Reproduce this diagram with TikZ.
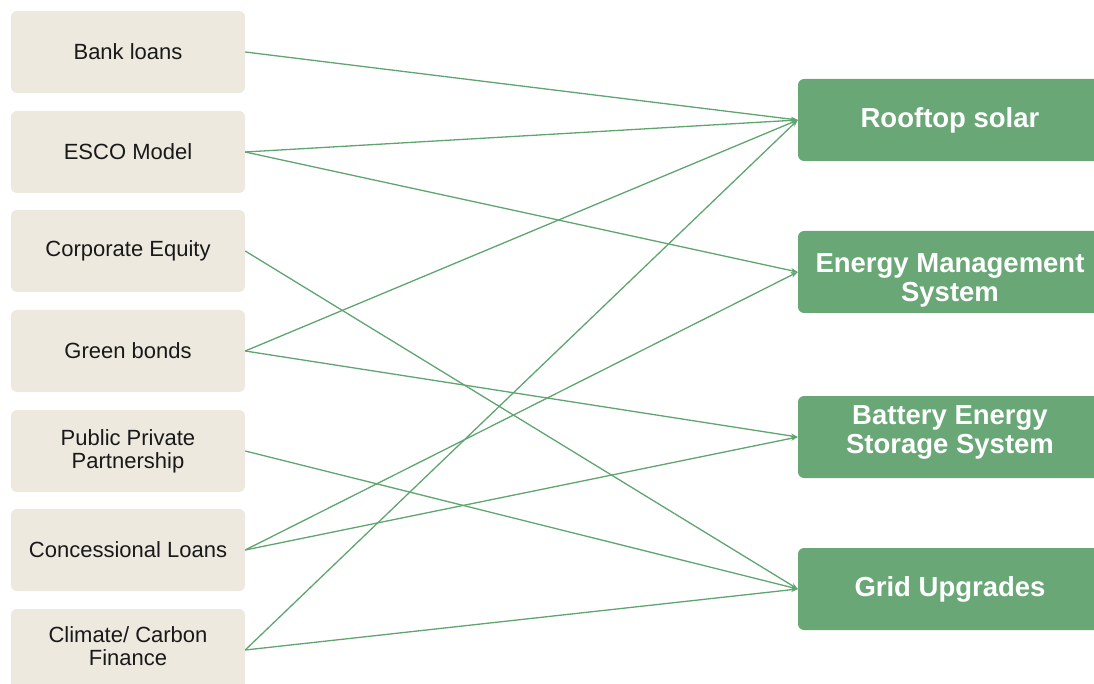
\documentclass[tikz,border=0pt]{standalone}
\usepackage{fontspec}
\setmainfont{Liberation Sans}
\usetikzlibrary{arrows.meta}
\definecolor{srcfill}{HTML}{EEE9DF}
\definecolor{dstfill}{HTML}{6AA777}
\definecolor{linkcol}{HTML}{5FA56F}
\begin{document}
\begin{tikzpicture}[x=1pt,y=-1pt,
  srcbox/.style={fill=srcfill,draw=none,rounded corners=6pt,minimum width=234pt,minimum height=82pt,inner sep=0pt,align=center,font=\fontsize{22}{23}\selectfont,text=black!90},
  srctext/.style={align=center,font=\fontsize{22}{23}\selectfont,text=black!90,inner sep=0pt},
  dstbox/.style={fill=dstfill,draw=none,rounded corners=6pt,minimum width=304pt,minimum height=82pt,inner sep=0pt,align=center,font=\fontsize{27.5}{29}\selectfont\bfseries,text=white},
  dsttext/.style={align=center,font=\fontsize{27.5}{29}\selectfont\bfseries,text=white,inner sep=0pt},
  link/.style={draw=linkcol,line width=1.3pt,-{Stealth[length=7pt,width=5pt]}}]
\useasboundingbox (0,0) rectangle (1094,684);
\clip (0,0) rectangle (1094,684);
\node[srcbox] (bank) at (128,52) {Bank loans};
\node[srcbox] (esco) at (128,152) {ESCO Model};
\node[srcbox] (corp) at (128,251) {Corporate Equity};
\node[srcbox] (green) at (128,351) {Green bonds};
\node[srcbox] (ppp) at (128,451) {Public Private\\Partnership};
\node[srcbox] (conc) at (128,550) {Concessional Loans};
\node[srcbox,label={[srctext,yshift=4pt]center:{Climate/ Carbon\\Finance}}] (clim) at (128,650) {};
\node[dstbox] (roof) at (950,120) {Rooftop solar};
\node[dstbox,label={[dsttext,yshift=-8pt]center:{Energy Management\\System}}] (ems) at (950,272) {};
\node[dstbox,label={[dsttext,yshift=5pt]center:{Battery Energy\\Storage System}}] (bess) at (950,437) {};
\node[dstbox] (grid) at (950,589) {Grid Upgrades};
\draw[link] (bank.east) -- (roof.west);
\draw[link] (esco.east) -- (roof.west);
\draw[link] (esco.east) -- (ems.west);
\draw[link] (corp.east) -- (grid.west);
\draw[link] (green.east) -- (roof.west);
\draw[link] (green.east) -- (bess.west);
\draw[link] (ppp.east) -- (grid.west);
\draw[link] (conc.east) -- (ems.west);
\draw[link] (conc.east) -- (bess.west);
\draw[link] (clim.east) -- (roof.west);
\draw[link] (clim.east) -- (grid.west);
\end{tikzpicture}
\end{document}
